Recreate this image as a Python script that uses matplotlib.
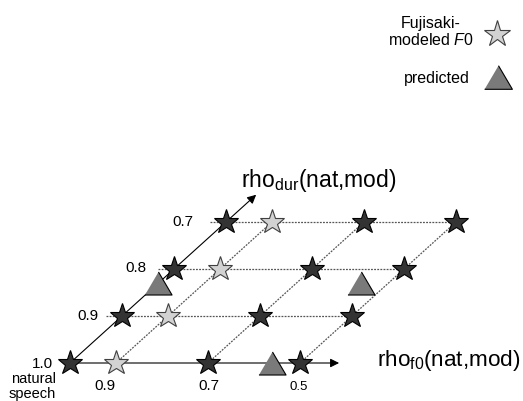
import matplotlib
matplotlib.use("Agg")
import numpy as np
import matplotlib.pyplot as plt
from matplotlib.transforms import Affine2D

plt.rcParams['font.family'] = ['Liberation Sans', 'DejaVu Sans']
plt.rcParams['mathtext.fontset'] = 'custom'
plt.rcParams['mathtext.rm'] = 'Liberation Sans'
plt.rcParams['mathtext.it'] = 'Liberation Sans:italic'

# correlation levels on the two axes
f0_levels = [1.0, 0.9, 0.7, 0.5]
dur_levels = [1.0, 0.9, 0.8, 0.7]

# natural speech (dark stars)
nat_f0 = [1.0, 0.7, 0.5, 1.0, 0.7, 0.5, 1.0, 0.7, 0.5, 1.0, 0.7, 0.5]
nat_dur = [1.0, 1.0, 1.0, 0.9, 0.9, 0.9, 0.8, 0.8, 0.8, 0.7, 0.7, 0.7]
# Fujisaki-modeled F0 (light stars)
fuji_f0 = [0.9, 0.9, 0.9, 0.9]
fuji_dur = [1.0, 0.9, 0.8, 0.7]
# predicted (triangles)
pred_f0 = [1.0, 0.56, 0.56]
pred_dur = [0.83, 0.83, 1.0]

f0_ticks = ['0.9', '0.7', '0.5']
dur_ticks = ['0.9', '0.8', '0.7']

fig = plt.figure(figsize=(5.23, 4.01), dpi=100)
ax = fig.add_axes([0, 0, 1, 1])
ax.set_xlim(0, 523)
ax.set_ylim(401, 0)
ax.axis('off')

# oblique plane: rho_f0 runs right, rho_dur runs up and to the right
plane = Affine2D(np.array([[-460.0, -520.0, 1050.0],
                           [0.0, 470.0, -107.0],
                           [0.0, 0.0, 1.0]]))
T = plane + ax.transData

dot = dict(color='#555555', lw=0.9, ls=(0, (1.5, 1.0)), zorder=1)
u_lo = min(f0_levels)
for v in dur_levels[1:]:
    ax.plot([1.035, u_lo], [v, v], transform=T, **dot)
for u in f0_levels[1:]:
    ax.plot([u, u], [max(dur_levels), min(dur_levels)], transform=T, **dot)

# the two axes with arrow heads
arr = dict(arrowstyle='-|>', color='black', lw=0.8, mutation_scale=13,
           shrinkA=0, shrinkB=0)
ax.annotate('', xy=(0.415, 1.0), xytext=(1.0, 1.0), xycoords=T,
            textcoords=T, arrowprops=arr, zorder=2)
ax.annotate('', xy=(1.0, 0.642), xytext=(1.0, 1.0), xycoords=T,
            textcoords=T, arrowprops=arr, zorder=2)

tri = [(-1, -0.85), (1, -0.85), (0, 0.85)]
ax.plot(nat_f0, nat_dur, ls='none', marker='*', ms=18.5, mfc='#333333',
        mec='black', mew=0.8, transform=T, zorder=4)
ax.plot(fuji_f0, fuji_dur, ls='none', marker='*', ms=18.5, mfc='#d2d2d2',
        mec='#404040', mew=0.8, transform=T, zorder=4)
ax.plot(pred_f0, pred_dur, ls='none', marker=tri, ms=19.5, mfc='#7a7a7a',
        mec='black', mew=0.8, transform=T, zorder=3)

# tick labels
for lab, x, y in zip(dur_ticks, [99, 146, 193], [316, 268, 222]):
    ax.text(x, y, lab, ha='right', va='center', fontsize=11)
ax.text(53, 368, '1.0', ha='right', va='baseline', fontsize=11)
ax.text(34, 383, 'natural', ha='center', va='baseline', fontsize=10.5)
ax.text(32, 398, 'speech', ha='center', va='baseline', fontsize=10.5)
for lab, x, fs in zip(f0_ticks, [105, 209, 299], [11, 11, 9.5]):
    ax.text(x, 390, lab, ha='center', va='baseline', fontsize=fs)

# axis titles
ax.text(241, 187, r'rho$_{\mathrm{dur}}$(nat,mod)', fontsize=16.5,
        va='baseline')
ax.text(377, 366, r'rho$_{\mathrm{f0}}$(nat,mod)', fontsize=16.2,
        va='baseline')

# legend
ax.text(431, 45, 'Fujisaki-\nmodeled $\\mathit{F0}$', ha='center',
        va='baseline', multialignment='center', fontsize=11.5,
        linespacing=1.1)
ax.text(470, 83, 'predicted', ha='right', va='baseline', fontsize=11.5)
ax.plot([497], [34], ls='none', marker='*', ms=20, mfc='#d2d2d2',
        mec='#404040', mew=0.8)
ax.plot([498], [77], ls='none', marker=tri, ms=20, mfc='#7a7a7a',
        mec='black', mew=0.8)

fig.savefig('out.png', dpi=100)
